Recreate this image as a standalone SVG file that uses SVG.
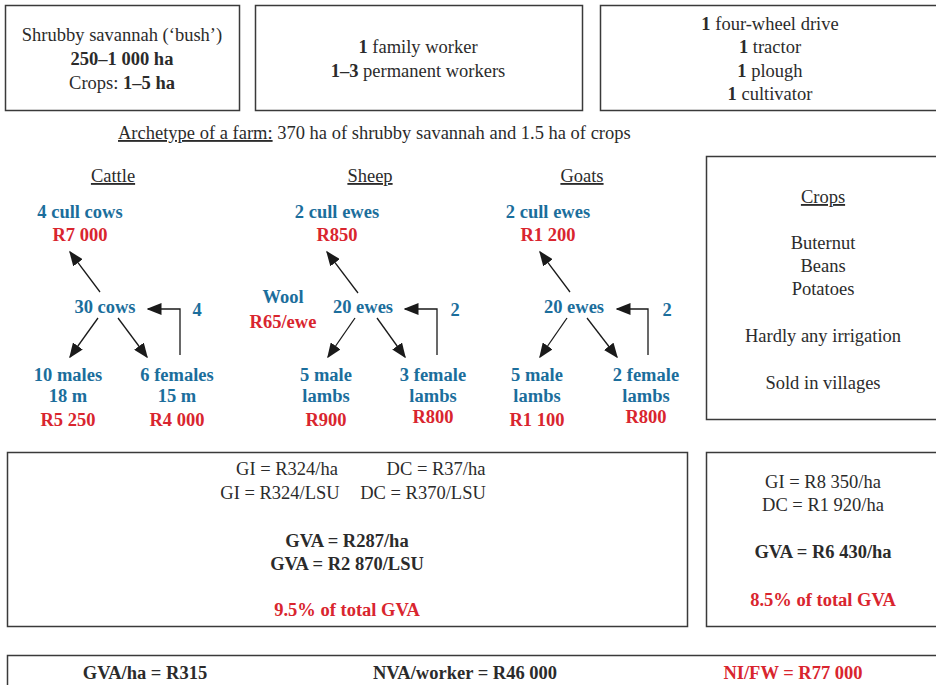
<svg xmlns="http://www.w3.org/2000/svg" width="936" height="685" viewBox="0 0 936 685">
<style>
text{font-family:"Liberation Serif","Times New Roman",serif;font-size:18.5px;fill:#2b2b2b;text-anchor:middle}
.b{font-weight:bold}
.bl{fill:#1b6e9c;font-weight:bold}
.rd{fill:#d9252e;font-weight:bold}
.u{text-decoration:underline}
.box{fill:#fff;stroke:#3a3a3a;stroke-width:1.5}
.ln{stroke:#1a1a1a;stroke-width:1.3;fill:none}
</style>
<defs>
<marker id="ah" viewBox="0 0 10 10" refX="9" refY="5" markerWidth="15" markerHeight="12" markerUnits="userSpaceOnUse" orient="auto" preserveAspectRatio="none">
<path d="M0,0 L10,5 L0,10 Z" fill="#1a1a1a"/>
</marker>
</defs>
<rect width="936" height="685" fill="#fff"/>

<g id="land">
<rect class="box" x="5.5" y="5.5" width="234" height="105"/>
<text x="122" y="41">Shrubby savannah (‘bush’)</text>
<text x="122" y="65" class="b">250–1 000 ha</text>
<text x="122" y="89">Crops: <tspan class="b">1–5 ha</tspan></text>
</g>

<g id="labour">
<rect class="box" x="255.5" y="5.5" width="327" height="105"/>
<text x="418" y="53"><tspan class="b">1</tspan> family worker</text>
<text x="418" y="77"><tspan class="b">1–3</tspan> permanent workers</text>
</g>

<g id="equipment">
<rect class="box" x="600.5" y="5.5" width="345" height="105"/>
<text x="770" y="30"><tspan class="b">1</tspan> four-wheel drive</text>
<text x="770" y="53"><tspan class="b">1</tspan> tractor</text>
<text x="770" y="77"><tspan class="b">1</tspan> plough</text>
<text x="770" y="100"><tspan class="b">1</tspan> cultivator</text>
</g>

<g id="archetype">
<text x="118" y="139" style="text-anchor:start"><tspan class="u">Archetype of a farm:</tspan> 370 ha of shrubby savannah and 1.5 ha of crops</text>
</g>

<g id="cattle">
<text x="113" y="182" class="u">Cattle</text>
<text x="80" y="218" class="bl">4 cull cows</text>
<text x="80" y="241" class="rd">R7 000</text>
<text x="105" y="313" class="bl">30 cows</text>
<text x="197" y="316" class="bl">4</text>
<text x="68" y="381" class="bl">10 males</text>
<text x="68" y="402" class="bl">18 m</text>
<text x="68" y="426" class="rd">R5 250</text>
<text x="177" y="381" class="bl">6 females</text>
<text x="177" y="402" class="bl">15 m</text>
<text x="177" y="426" class="rd">R4 000</text>
</g>

<g id="sheep">
<text x="370" y="182" class="u">Sheep</text>
<text x="337" y="218" class="bl">2 cull ewes</text>
<text x="337" y="241" class="rd">R850</text>
<text x="283" y="303" class="bl">Wool</text>
<text x="283" y="328" class="rd">R65/ewe</text>
<text x="363" y="313" class="bl">20 ewes</text>
<text x="455" y="316" class="bl">2</text>
<text x="326" y="381" class="bl">5 male</text>
<text x="326" y="402" class="bl">lambs</text>
<text x="326" y="426" class="rd">R900</text>
<text x="433" y="381" class="bl">3 female</text>
<text x="433" y="402" class="bl">lambs</text>
<text x="433" y="423" class="rd">R800</text>
</g>

<g id="goats">
<text x="582" y="182" class="u">Goats</text>
<text x="548" y="218" class="bl">2 cull ewes</text>
<text x="548" y="241" class="rd">R1 200</text>
<text x="574" y="313" class="bl">20 ewes</text>
<text x="667" y="316" class="bl">2</text>
<text x="537" y="381" class="bl">5 male</text>
<text x="537" y="402" class="bl">lambs</text>
<text x="537" y="426" class="rd">R1 100</text>
<text x="646" y="381" class="bl">2 female</text>
<text x="646" y="402" class="bl">lambs</text>
<text x="646" y="423" class="rd">R800</text>
</g>

<g id="crops">
<rect class="box" x="706.5" y="156.5" width="240" height="263"/>
<text x="823" y="203" class="u">Crops</text>
<text x="823" y="249">Buternut</text>
<text x="823" y="272">Beans</text>
<text x="823" y="295">Potatoes</text>
<text x="823" y="342">Hardly any irrigation</text>
<text x="823" y="389">Sold in villages</text>
</g>

<g id="livestock-results">
<rect class="box" x="7.5" y="452.5" width="680" height="174"/>
<text x="287" y="475">GI = R324/ha</text>
<text x="436" y="475">DC = R37/ha</text>
<text x="280" y="499">GI = R324/LSU</text>
<text x="423" y="499">DC = R370/LSU</text>
<text x="347" y="547" class="b">GVA = R287/ha</text>
<text x="347" y="570" class="b">GVA = R2 870/LSU</text>
<text x="347" y="616" class="rd">9.5% of total GVA</text>
</g>

<g id="crop-results">
<rect class="box" x="706.5" y="452.5" width="240" height="174"/>
<text x="823" y="488">GI = R8 350/ha</text>
<text x="823" y="511">DC = R1 920/ha</text>
<text x="823" y="558" class="b">GVA = R6 430/ha</text>
<text x="823" y="606" class="rd">8.5% of total GVA</text>
</g>

<g id="farm-results">
<rect class="box" x="7.5" y="655.5" width="940" height="40"/>
<text x="145" y="679" class="b">GVA/ha = R315</text>
<text x="465" y="679" class="b">NVA/worker = R46 000</text>
<text x="793" y="679" class="rd">NI/FW = R77 000</text>
</g>

<g id="connectors">
<line class="ln" x1="100" y1="292" x2="70" y2="252" marker-end="url(#ah)"/>
<line class="ln" x1="98" y1="318" x2="70" y2="357" marker-end="url(#ah)"/>
<line class="ln" x1="118" y1="318" x2="147" y2="357" marker-end="url(#ah)"/>
<polyline class="ln" points="180,355 180,309 148,309" marker-end="url(#ah)"/>

<line class="ln" x1="358" y1="293" x2="327" y2="252" marker-end="url(#ah)"/>
<line class="ln" x1="355" y1="318" x2="328" y2="357" marker-end="url(#ah)"/>
<line class="ln" x1="377" y1="318" x2="405" y2="357" marker-end="url(#ah)"/>
<polyline class="ln" points="437,355 437,309 405,309" marker-end="url(#ah)"/>

<line class="ln" x1="570" y1="292" x2="540" y2="252" marker-end="url(#ah)"/>
<line class="ln" x1="567" y1="318" x2="540" y2="357" marker-end="url(#ah)"/>
<line class="ln" x1="587" y1="318" x2="617" y2="357" marker-end="url(#ah)"/>
<polyline class="ln" points="648,355 648,309 617,309" marker-end="url(#ah)"/>
</g>
</svg>
